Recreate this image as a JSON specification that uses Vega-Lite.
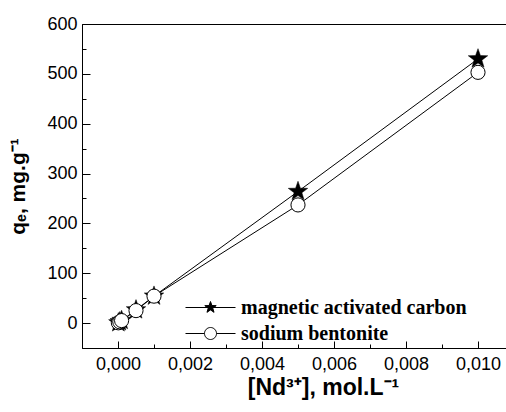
{
  "$schema": "https://vega.github.io/schema/vega-lite/v6.json",
  "width": 432,
  "height": 324,
  "autosize": {"type": "none"},
  "padding": {"left": 82, "top": 24, "right": 0, "bottom": 64},
  "background": "white",
  "config": {
    "view": {"stroke": "black", "strokeWidth": 1},
    "axis": {"grid": false, "domainColor": "black", "tickColor": "black", "labelColor": "black", "titleColor": "black", "labelFont": "Liberation Sans", "titleFont": "Liberation Sans", "labelFontSize": 18, "titleFontSize": 21, "titleFontWeight": "bold"}
  },
  "data": {
    "values": [
      {"series": "magnetic activated carbon", "c": 0.00001, "q": 0.5},
      {"series": "magnetic activated carbon", "c": 0.00005, "q": 2.6},
      {"series": "magnetic activated carbon", "c": 0.0001, "q": 5.2},
      {"series": "magnetic activated carbon", "c": 0.0005, "q": 26.5},
      {"series": "magnetic activated carbon", "c": 0.001, "q": 54},
      {"series": "magnetic activated carbon", "c": 0.005, "q": 264},
      {"series": "magnetic activated carbon", "c": 0.01, "q": 530},
      {"series": "sodium bentonite", "c": 0.00001, "q": 0.5},
      {"series": "sodium bentonite", "c": 0.00005, "q": 2.5},
      {"series": "sodium bentonite", "c": 0.0001, "q": 5},
      {"series": "sodium bentonite", "c": 0.0005, "q": 25},
      {"series": "sodium bentonite", "c": 0.001, "q": 54},
      {"series": "sodium bentonite", "c": 0.005, "q": 237},
      {"series": "sodium bentonite", "c": 0.01, "q": 503}
    ]
  },
  "encoding": {
    "x": {
      "field": "c", "type": "quantitative",
      "scale": {"domain": [-0.001, 0.011], "nice": false, "zero": false},
      "axis": {
        "title": "[Nd³⁺], mol.L⁻¹",
        "titleFontSize": 23,
        "values": [0, 0.001, 0.002, 0.003, 0.004, 0.005, 0.006, 0.007, 0.008, 0.009, 0.01],
        "labelExpr": "round(datum.value*1000) % 2 == 0 ? replace(format(datum.value, '.3f'), '.', ',') : ''",
        "tickSize": {"condition": {"test": "round(datum.value*1000) % 2 == 0", "value": -7}, "value": -4},
        "labelPadding": 14,
        "titleX": 241,
        "titlePadding": 3
      }
    },
    "y": {
      "field": "q", "type": "quantitative",
      "scale": {"domain": [-50, 600], "nice": false, "zero": false},
      "axis": {
        "title": "qₑ, mg.g⁻¹",
        "values": [0, 50, 100, 150, 200, 250, 300, 350, 400, 450, 500, 550, 600],
        "labelExpr": "datum.value % 100 == 0 ? datum.label : ''",
        "tickSize": {"condition": {"test": "datum.value % 100 == 0", "value": -8}, "value": -4},
        "labelPadding": 13,
        "titlePadding": 18
      }
    }
  },
  "layer": [
    {
      "mark": {"type": "line", "color": "black", "strokeWidth": 1},
      "encoding": {"detail": {"field": "series"}}
    },
    {
      "transform": [{"filter": "datum.series == 'magnetic activated carbon'"}],
      "mark": {"type": "point", "shape": "M0,-1L0.235,-0.324L0.951,-0.309L0.38,0.124L0.588,0.809L0,0.4L-0.588,0.809L-0.38,0.124L-0.951,-0.309L-0.235,-0.324Z", "size": 420, "filled": true, "fill": "black", "stroke": "black", "strokeWidth": 0.5, "opacity": 1}
    },
    {
      "transform": [{"filter": "datum.series == 'sodium bentonite'"}],
      "mark": {"type": "point", "shape": "circle", "size": 200, "filled": true, "fill": "white", "stroke": "black", "strokeWidth": 1, "opacity": 1}
    },
    {
      "transform": [{"filter": "false"}],
      "mark": {"type": "point", "filled": true, "opacity": 1, "strokeWidth": 1, "size": 400},
      "encoding": {
        "shape": {
          "field": "series", "type": "nominal",
          "scale": {"domain": ["magnetic activated carbon", "sodium bentonite"], "range": [
            "M0,-0.6L0.141,-0.194L0.571,-0.185L0.228,0.074L0.353,0.485L0,0.24L-0.353,0.485L-0.228,0.074L-0.571,-0.185L-0.141,-0.194ZM-2.5,0H2.5",
            "M-2.5,0H-0.6M-0.6,0A0.6,0.6 0 1,1 0.6,0A0.6,0.6 0 1,1 -0.6,0ZM0.6,0H2.5"
          ]},
          "legend": {
            "title": null, "orient": "none", "legendX": 118, "legendY": 273, "padding": 0,
            "symbolSize": 400, "symbolStrokeWidth": 1, "symbolOpacity": 1,
            "labelFont": "Liberation Serif", "labelFontWeight": "bold", "labelFontSize": 20, "labelColor": "black",
            "labelOffset": 20, "rowPadding": 5, "labelLimit": 400
          }
        },
        "fill": {
          "field": "series", "type": "nominal",
          "scale": {"domain": ["magnetic activated carbon", "sodium bentonite"], "range": ["black", "white"]},
          "legend": {"title": null}
        },
        "stroke": {
          "field": "series", "type": "nominal",
          "scale": {"domain": ["magnetic activated carbon", "sodium bentonite"], "range": ["black", "black"]},
          "legend": {"title": null}
        }
      }
    }
  ]
}
